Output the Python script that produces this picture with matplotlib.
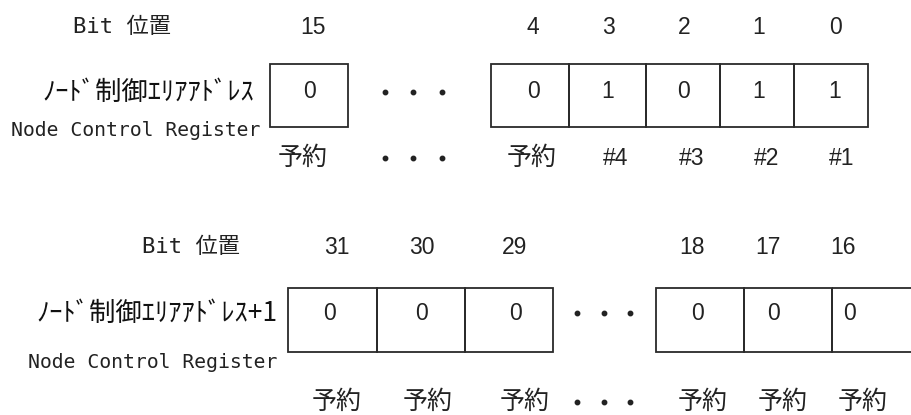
import matplotlib.pyplot as plt
from matplotlib.patches import Rectangle

# register contents
top_bits = ['15', '4', '3', '2', '1', '0']
top_values = ['0', '0', '1', '0', '1', '1']
top_labels = ['予約', '予約', '#4', '#3', '#2', '#1']

bot_bits = ['31', '30', '29', '18', '17', '16']
bot_values = ['0', '0', '0', '0', '0', '0']
bot_labels = ['予約', '予約', '予約', '予約', '予約', '予約']

name_top = 'ﾉｰﾄﾞ制御ｴﾘｱｱﾄﾞﾚｽ'
name_bot = 'ﾉｰﾄﾞ制御ｴﾘｱｱﾄﾞﾚｽ+1'
name_en = 'Node Control Register'
bit_head = 'Bit 位置'

# layout (pixel space, y downwards)
rows = [
    dict(bits=top_bits, values=top_values, labels=top_labels, name=name_top,
         head_y=27, box=(64, 127), val_y=92, lab_y=158,
         groups=[[270, 348], [491, 569, 646, 720, 794, 868]],
         bit_x=[313, 533, 608, 684, 759, 835],
         val_x=[309, 533, 608, 684, 759, 835],
         lab_x=[303, 532, 616, 692, 767, 842],
         dots_x=[385, 413, 442], head_x=122, name_x=254, en_x=260, en_y=130),
    dict(bits=bot_bits, values=bot_values, labels=bot_labels, name=name_bot,
         head_y=247, box=(288, 352), val_y=313, lab_y=402,
         groups=[[288, 377, 465, 553], [656, 744, 832, 925]],
         bit_x=[337, 422, 515, 692, 768, 843],
         val_x=[329, 422, 515, 698, 773, 849],
         lab_x=[337, 428, 525, 703, 783, 863],
         dots_x=[577, 604, 630], head_x=191, name_x=278, en_x=277, en_y=362),
]

num_font = 'Liberation Sans'
jp_font = ['Noto Sans CJK JP', 'DejaVu Sans']
mono_font = ['DejaVu Sans Mono', 'Noto Sans CJK JP']

fig = plt.figure(figsize=(9.11, 4.15), dpi=100)
ax = fig.add_axes([0, 0, 1, 1])
ax.set_xlim(0, 911)
ax.set_ylim(415, 0)
ax.axis('off')

for r in rows:
    y0, y1 = r['box']
    for edges in r['groups']:
        for a, b in zip(edges[:-1], edges[1:]):
            ax.add_patch(Rectangle((a, y0), b - a, y1 - y0, fill=False,
                                   edgecolor='#2a2a2a', linewidth=1.3))
    for x, t in zip(r['bit_x'], r['bits']):
        ax.text(x, r['head_y'], t, ha='center', va='center', fontsize=16.5,
                family=num_font, color='#222222')
    for x, t in zip(r['val_x'], r['values']):
        ax.text(x, r['val_y'], t, ha='center', va='center', fontsize=16.5,
                family=num_font, color='#222222')
    for x, t in zip(r['lab_x'], r['labels']):
        if t == '予約':
            ax.text(x, r['lab_y'], t, ha='center', va='center', fontsize=18,
                    family=jp_font, color='#222222')
        else:
            ax.text(x, r['lab_y'], t, ha='center', va='center', fontsize=16.5,
                    family=num_font, color='#222222')
    for yy in (r['val_y'], r['lab_y']):
        ax.plot(r['dots_x'], [yy] * len(r['dots_x']), 'o', color='#222222',
                markersize=3.2, linestyle='none')
    ax.text(r['head_x'], r['head_y'], bit_head, ha='center', va='center',
            fontsize=16, family=mono_font, color='#222222')
    ax.text(r['name_x'], r['val_y'], r['name'], ha='right', va='center',
            fontsize=19, family=jp_font, color='#111111')
    ax.text(r['en_x'], r['en_y'], name_en, ha='right', va='center',
            fontsize=14.2, family=mono_font, color='#222222')

fig.savefig('out.png', dpi=100)
